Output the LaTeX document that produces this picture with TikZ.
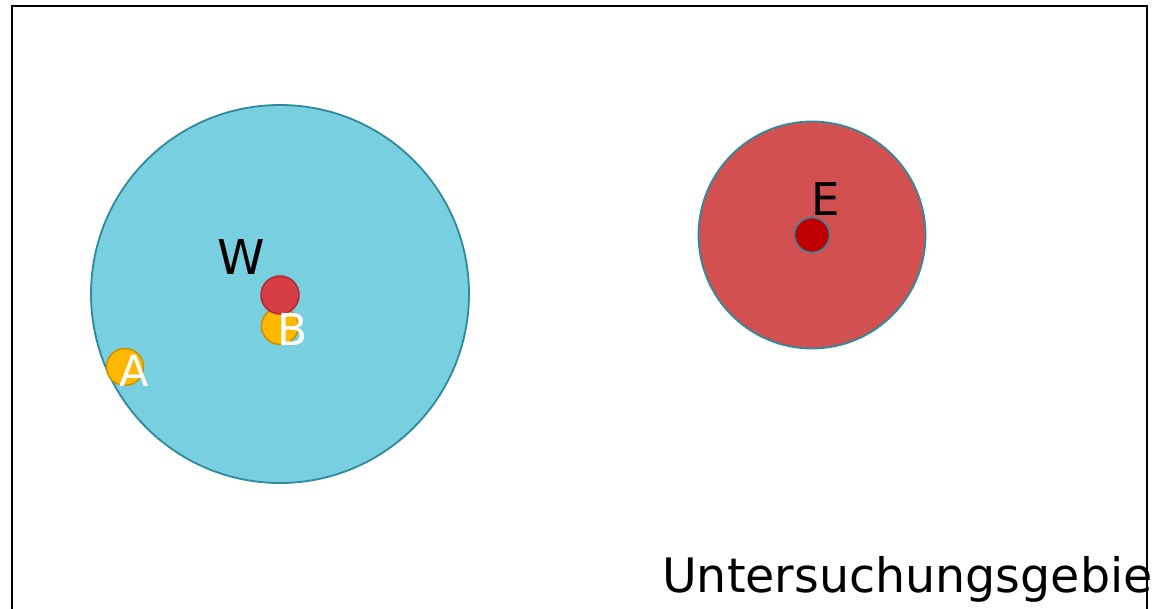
\documentclass[tikz,border=0pt]{standalone}
\usepackage{fontspec}
\setmainfont{DejaVu Sans}
\begin{document}
\begin{tikzpicture}[x=1pt,y=-1pt,
  lbl/.style={inner sep=0pt,anchor=base west},
  dot/.style={circle,inner sep=0pt,line width=1.5pt}]
\definecolor{wblue}{HTML}{78CFE0}
\definecolor{wedge}{HTML}{2E8A9C}
\definecolor{ered}{HTML}{D35050}
\definecolor{rdot}{HTML}{D63C44}
\definecolor{rdotedge}{HTML}{B02830}
\definecolor{ydot}{HTML}{FFB800}
\definecolor{ydotedge}{HTML}{C89000}
\definecolor{dred}{HTML}{C00000}
\useasboundingbox (0,0) rectangle (1153,609);
\clip (0,0) rectangle (1153,609);
\fill[white] (0,0) rectangle (1153,609);
% Untersuchungsgebiet label (drawn before frame so frame line passes over it)
\node[lbl,font=\fontsize{47.5}{57}\selectfont] (ug) at (662,592) {Untersuchungsgebiet};
\draw[line width=2.2pt] (12,630) -- (12,6) -- (1147,6) -- (1147,630);
% W area
\node[circle,draw=wedge,fill=wblue,line width=1.8pt,minimum size=378pt,inner sep=0pt] (W) at (280,294) {};
\node[dot,draw=ydotedge,fill=ydot,minimum size=37pt] (b) at (280,326) {};
\node[dot,draw=rdotedge,fill=rdot,minimum size=38pt] (w) at (280,295) {};
\node[lbl,font=\fontsize{48}{58}\selectfont] (wl) at (217,275) {W};
\node[lbl,font=\fontsize{44}{52}\selectfont,text=white] (bl) at (277,345) {B};
\node[dot,draw=ydotedge,fill=ydot,minimum size=37pt] (a) at (125,367) {};
\node[lbl,font=\fontsize{43}{52}\selectfont,text=white] (al) at (119,386) {A};
% E area
\node[circle,draw=wedge,fill=ered,line width=1.8pt,minimum size=227pt,inner sep=0pt] (E) at (812,235) {};
\node[dot,draw=wedge,fill=dred,minimum size=35pt] (e) at (812,235) {};
\node[lbl,font=\fontsize{45}{54}\selectfont] (el) at (811,216) {E};
\end{tikzpicture}
\end{document}
